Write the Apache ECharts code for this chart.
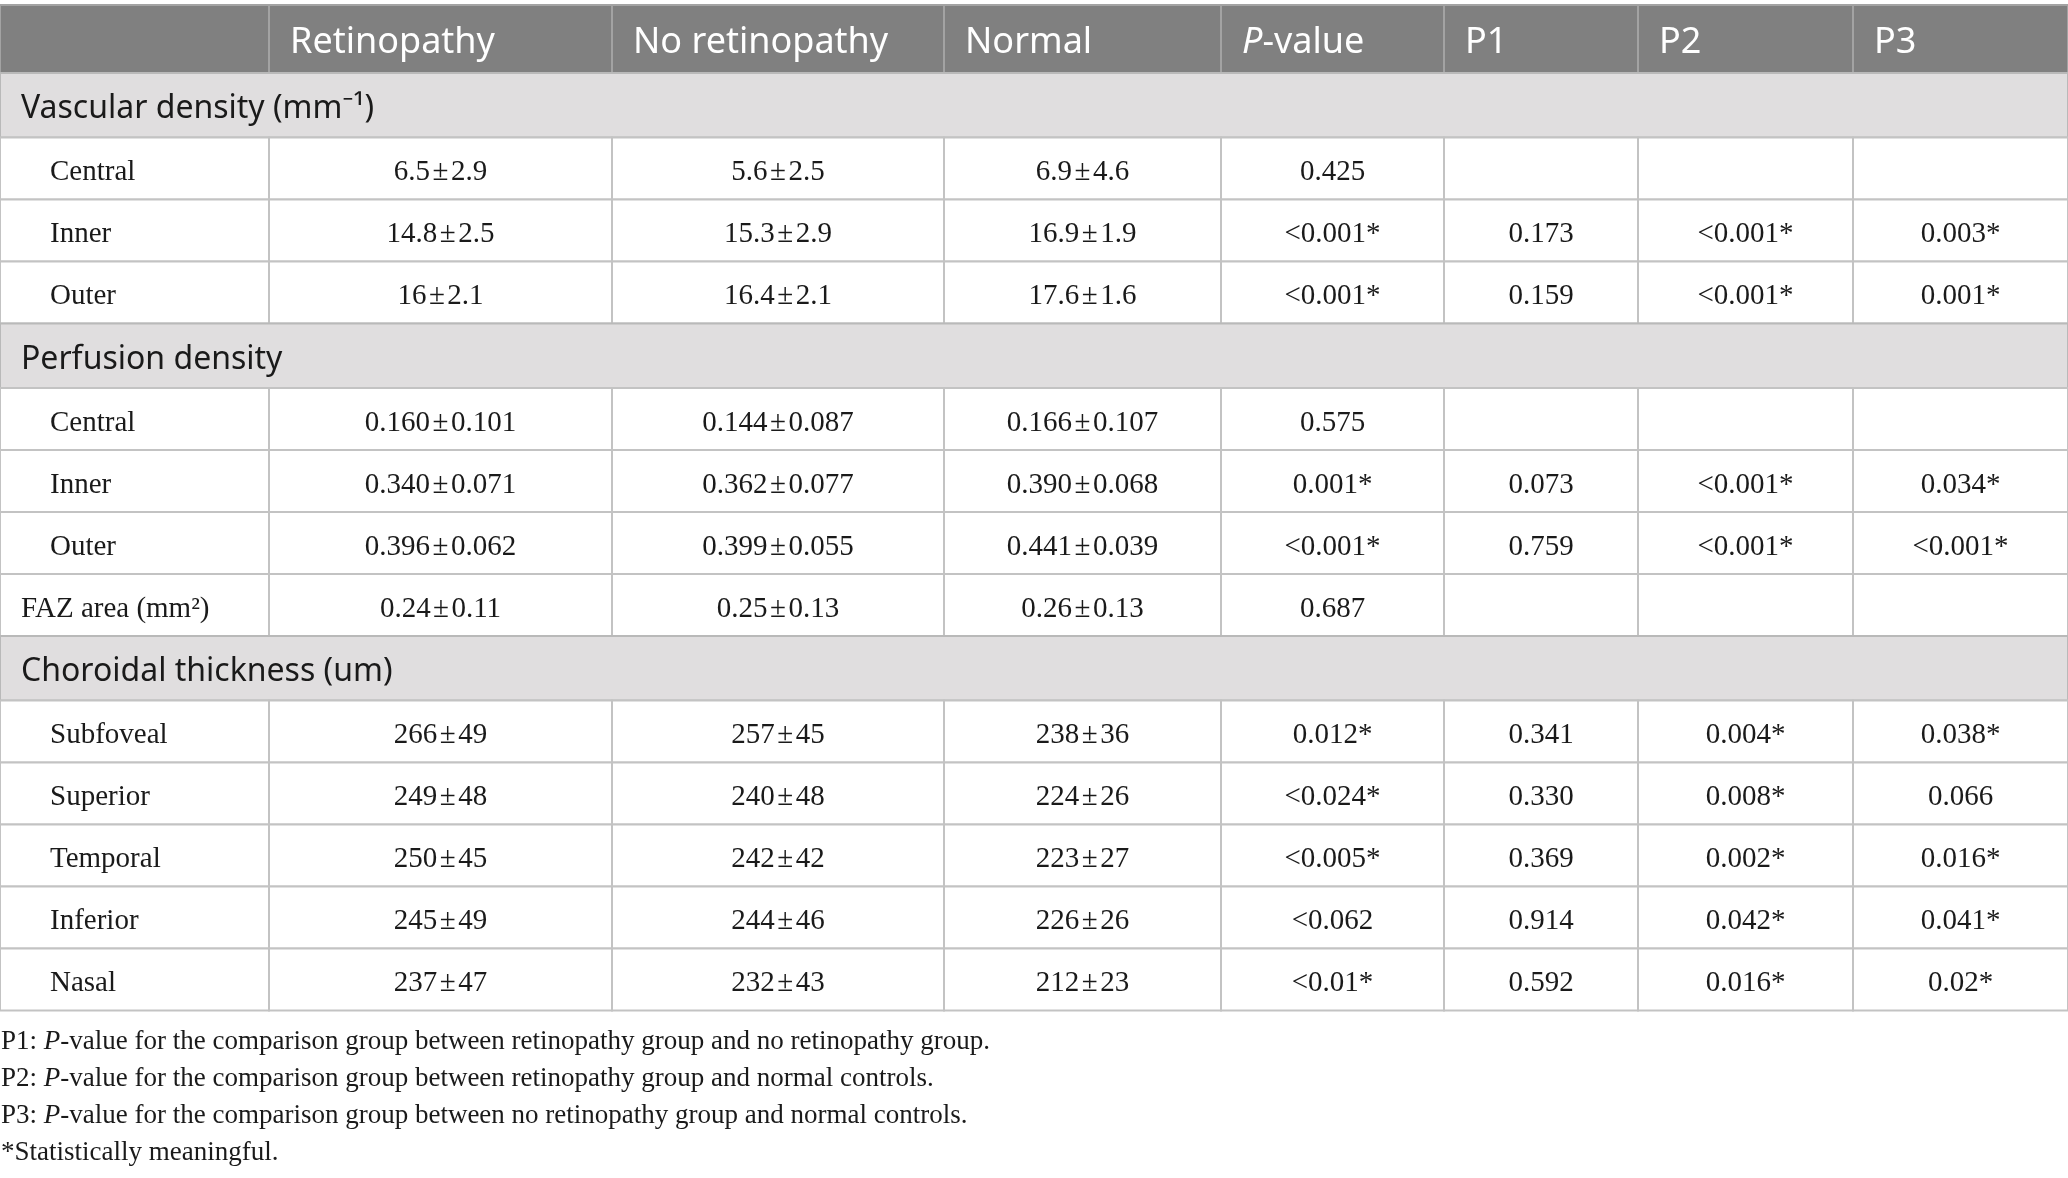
<!DOCTYPE html>
<html>
<head>
<meta charset="utf-8">
<script src="https://cdn.jsdelivr.net/npm/echarts@6/dist/echarts.min.js"></script>
<style>
html, body { margin: 0; padding: 0; background: #ffffff; }
#main { width: 2068px; height: 1178px; }
</style>
</head>
<body>
<div id="main"></div>
<script>
// ---- table content ----
var headers = ['', 'Retinopathy', 'No retinopathy', 'Normal', '{i|P}-value', 'P1', 'P2', 'P3'];

// kind: section = grey band, item = indented label, plain = label not indented
var rowKinds = ['section', 'item', 'item', 'item',
	'section', 'item', 'item', 'item', 'plain',
	'section', 'item', 'item', 'item', 'item', 'item'];
var rowLabels = ['Vascular density (mm\u207B\u00B9)', 'Central', 'Inner', 'Outer',
	'Perfusion density', 'Central', 'Inner', 'Outer', 'FAZ area (mm\u00B2)',
	'Choroidal thickness (um)', 'Subfoveal', 'Superior', 'Temporal', 'Inferior', 'Nasal'];

var retinopathy = [null, '6.5 ± 2.9', '14.8 ± 2.5', '16 ± 2.1',
	null, '0.160 ± 0.101', '0.340 ± 0.071', '0.396 ± 0.062', '0.24 ± 0.11',
	null, '266 ± 49', '249 ± 48', '250 ± 45', '245 ± 49', '237 ± 47'];
var noRetinopathy = [null, '5.6 ± 2.5', '15.3 ± 2.9', '16.4 ± 2.1',
	null, '0.144 ± 0.087', '0.362 ± 0.077', '0.399 ± 0.055', '0.25 ± 0.13',
	null, '257 ± 45', '240 ± 48', '242 ± 42', '244 ± 46', '232 ± 43'];
var normal = [null, '6.9 ± 4.6', '16.9 ± 1.9', '17.6 ± 1.6',
	null, '0.166 ± 0.107', '0.390 ± 0.068', '0.441 ± 0.039', '0.26 ± 0.13',
	null, '238 ± 36', '224 ± 26', '223 ± 27', '226 ± 26', '212 ± 23'];
var pValue = [null, '0.425', '<0.001*', '<0.001*',
	null, '0.575', '0.001*', '<0.001*', '0.687',
	null, '0.012*', '<0.024*', '<0.005*', '<0.062', '<0.01*'];
var p1 = [null, '', '0.173', '0.159',
	null, '', '0.073', '0.759', '',
	null, '0.341', '0.330', '0.369', '0.914', '0.592'];
var p2 = [null, '', '<0.001*', '<0.001*',
	null, '', '<0.001*', '<0.001*', '',
	null, '0.004*', '0.008*', '0.002*', '0.042*', '0.016*'];
var p3 = [null, '', '0.003*', '0.001*',
	null, '', '0.034*', '<0.001*', '',
	null, '0.038*', '0.066', '0.016*', '0.041*', '0.02*'];

var notes = [
	'P1: {i|P}-value for the comparison group between retinopathy group and no retinopathy group.',
	'P2: {i|P}-value for the comparison group between retinopathy group and normal controls.',
	'P3: {i|P}-value for the comparison group between no retinopathy group and normal controls.',
	'*Statistically meaningful.'
];

// ---- layout ----
var colWidths = [269, 343, 332, 277, 223, 194, 215, 215];
var headerHeight = 68;
var sectionHeight = 64.5;
var itemHeight = 62;

var sansFont = '"Noto Sans", "Open Sans", sans-serif';
var serifFont = '"Liberation Serif", "DejaVu Serif", serif';

function pm(s) {
	// tighten the spaces around ±
	return s ? s.replace(/ ± /g, '\u200A±\u200A') : s;
}

var colEdges = [0];
for (var i = 0; i < colWidths.length; i++) {
	colEdges.push(colEdges[i] + colWidths[i]);
}
var totalWidth = colEdges[colEdges.length - 1];

var cells = [];
for (var c = 0; c < headers.length; c++) {
	cells.push({ x0: colEdges[c], x1: colEdges[c + 1], y0: 0, y1: headerHeight, kind: 'header', text: headers[c] });
}
var y = headerHeight;
var valueCols = [retinopathy, noRetinopathy, normal, pValue, p1, p2, p3];
for (var r = 0; r < rowKinds.length; r++) {
	var kind = rowKinds[r];
	var h = kind === 'section' ? sectionHeight : itemHeight;
	if (kind === 'section') {
		cells.push({ x0: 0, x1: totalWidth, y0: y, y1: y + h, kind: 'section', text: rowLabels[r] });
	} else {
		cells.push({ x0: colEdges[0], x1: colEdges[1], y0: y, y1: y + h, kind: kind, text: rowLabels[r] });
		for (var v = 0; v < valueCols.length; v++) {
			cells.push({ x0: colEdges[v + 1], x1: colEdges[v + 2], y0: y, y1: y + h, kind: 'value', text: pm(valueCols[v][r]) });
		}
	}
	y += h;
}
var totalHeight = y;
var tableTop = 5;

function renderCell(params, api) {
	var cell = cells[params.dataIndex];
	var a = api.coord([cell.x0, cell.y0]);
	var b = api.coord([cell.x1, cell.y1]);
	var w = b[0] - a[0], hh = b[1] - a[1];
	var fill = '#ffffff', stroke = '#c3c3c3', color = '#1a1a1a';
	var font = serifFont, size = 29, align = 'center', tx = a[0] + w / 2;
	if (cell.kind === 'header') {
		fill = '#808080'; stroke = '#a3a3a3'; color = '#ffffff';
		font = sansFont; size = 36; align = 'left'; tx = a[0] + 21;
	} else if (cell.kind === 'section') {
		fill = '#e0dedf'; stroke = '#b9b9b9';
		font = sansFont; size = 32; align = 'left'; tx = a[0] + 21;
	} else if (cell.kind === 'item') {
		align = 'left'; tx = a[0] + 50;
	} else if (cell.kind === 'plain') {
		align = 'left'; tx = a[0] + 21;
	}
	return {
		type: 'group',
		children: [{
			type: 'rect',
			shape: { x: a[0], y: a[1], width: w, height: hh },
			style: { fill: fill, stroke: stroke, lineWidth: 2 }
		}, {
			type: 'text',
			style: {
				x: tx,
				y: a[1] + hh / 2 + 4,
				text: cell.text || '',
				align: align,
				verticalAlign: 'middle',
				fontFamily: font,
				fontSize: size,
				fill: color,
				rich: {
					i: { fontStyle: 'italic', fontFamily: font, fontSize: size, fill: color }
				}
			}
		}]
	};
}

var noteElements = [];
for (var n = 0; n < notes.length; n++) {
	noteElements.push({
		type: 'text',
		x: 1,
		y: 1042 + n * 37,
		style: {
			text: notes[n],
			verticalAlign: 'middle',
			fontFamily: serifFont,
			fontSize: 27,
			fill: '#1a1a1a',
			rich: {
				i: { fontStyle: 'italic', fontFamily: serifFont, fontSize: 27, fill: '#1a1a1a' }
			}
		}
	});
}

var myChart = echarts.init(document.getElementById('main'));

var option = {
	animation: false,
	grid: {
		left: 0,
		right: 0,
		top: tableTop,
		bottom: 1178 - tableTop - totalHeight
	},
	xAxis: { type: 'value', min: 0, max: totalWidth, show: false },
	yAxis: { type: 'value', min: 0, max: totalHeight, inverse: true, show: false },
	series: [{
		type: 'custom',
		renderItem: renderCell,
		clip: false,
		silent: true,
		encode: { x: [0, 1], y: [2, 3] },
		data: cells.map(function (cell) {
			return [cell.x0, cell.x1, cell.y0, cell.y1];
		})
	}],
	graphic: noteElements
};

myChart.setOption(option);
</script>
</body>
</html>
